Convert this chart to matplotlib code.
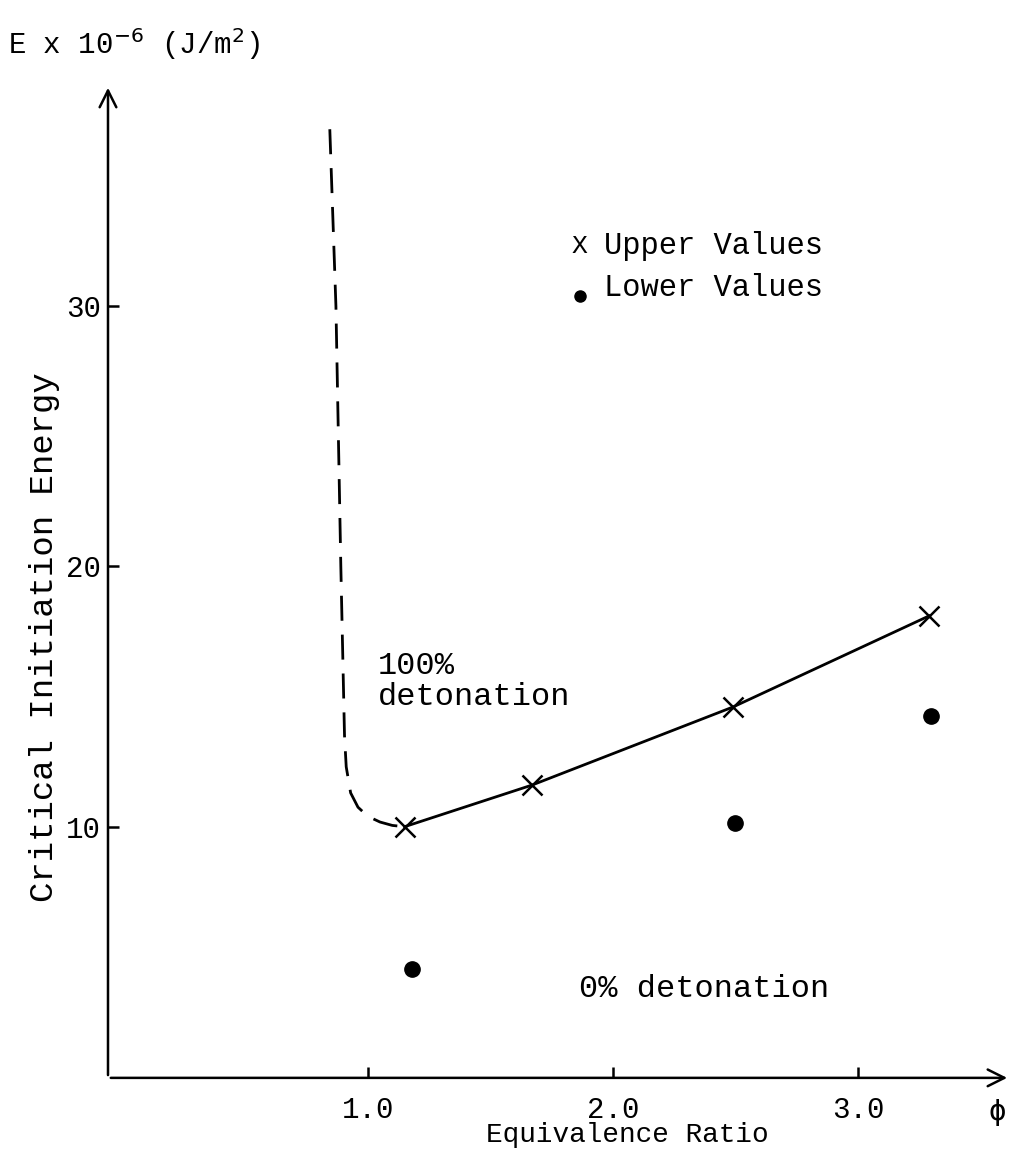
import matplotlib
matplotlib.use("Agg")
import matplotlib.pyplot as plt

# Data
upper_phi = [1.15, 1.67, 2.49, 3.29]
upper_E = [10.0, 11.6, 14.6, 18.1]
lower_phi = [1.18, 2.50, 3.30]
lower_E = [4.55, 10.15, 14.25]
boundary_phi = [0.845, 0.87, 0.89, 0.905, 0.912, 0.93, 0.96, 1.00, 1.05, 1.10, 1.15]
boundary_E = [36.8, 30.0, 20.0, 13.5, 12.3, 11.3, 10.75, 10.4, 10.18, 10.05, 10.0]
xticks = [1.0, 2.0, 3.0]
xtick_labels = ["1.0", "2.0", "3.0"]
yticks = [10, 20, 30]
ytick_labels = ["10", "20", "30"]

mono = ["Liberation Mono", "DejaVu Sans Mono"]
plt.rcParams["font.family"] = mono

fig = plt.figure(figsize=(10.15, 11.58), dpi=100)
ax = fig.add_axes([0.1064, 0.0692, 0.8886, 0.8574])
ax.set_xlim(-0.06, 3.62)
ax.set_ylim(0.35, 38.5)

for s in ax.spines.values():
    s.set_visible(False)

# axes with arrows
ax.annotate("", xy=(1.0, 0), xytext=(0, 0), xycoords="axes fraction",
            arrowprops=dict(arrowstyle="->", lw=1.8, color="black", mutation_scale=30))
ax.annotate("", xy=(0, 1.0), xytext=(0, 0), xycoords="axes fraction",
            arrowprops=dict(arrowstyle="->", lw=1.8, color="black", mutation_scale=30))

ax.set_xticks(xticks)
ax.set_xticklabels(xtick_labels)
ax.set_yticks(yticks)
ax.set_yticklabels(ytick_labels)
ax.tick_params(axis="both", direction="in", length=8, width=1.8, labelsize=21, color="black")
ax.tick_params(axis="x", pad=13)
ax.tick_params(axis="y", pad=5)

# dashed boundary
ax.plot(boundary_phi, boundary_E, color="black", lw=2.0, dashes=(9, 5))
# upper values
ax.plot(upper_phi, upper_E, color="black", lw=2.0, marker="x", markersize=14, markeredgewidth=1.8)
# lower values
ax.plot(lower_phi, lower_E, linestyle="none", marker="o", markersize=11,
        markerfacecolor="black", markeredgecolor="black")

# labels
ax.text(1.04, 16.75, "100%\ndetonation", fontsize=23, ha="left", va="top", linespacing=1.05)
ax.text(1.86, 3.75, "0% detonation", fontsize=23, ha="left", va="center")
ax.text(1.83, 32.3, "X", fontsize=19, ha="left", va="center")
ax.text(1.965, 32.3, "Upper Values", fontsize=22, ha="left", va="center")
ax.plot([1.865], [30.4], marker="o", color="black", markersize=8)
ax.text(1.965, 30.7, "Lower Values", fontsize=22, ha="left", va="center")
ax.text(3.57, -0.95, "\u03d5", fontsize=21, ha="center", va="center",
        family=["DejaVu Sans Mono", "DejaVu Sans"])

fig.text(0.618, 0.0199, "Equivalence Ratio", fontsize=20, ha="center", va="center")
fig.text(0.044, 0.45, "Critical Initiation Energy", fontsize=24.5, rotation=90, ha="center", va="center")
fig.text(0.008, 0.962, r"E x 10$^{-6}$ (J/m$^{2}$)", fontsize=21, ha="left", va="center")

fig.savefig("out.png", dpi=100)
